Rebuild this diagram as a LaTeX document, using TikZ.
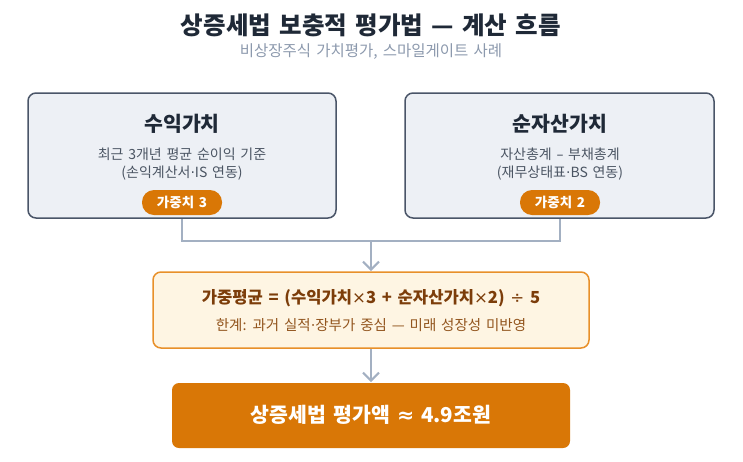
\documentclass[tikz,border=0pt]{standalone}
\usepackage{fontspec}
\setmainfont[WordSpace=1.5]{Noto Sans CJK KR}
\newfontfamily\symfont{DejaVu Sans}
\usepackage{xcolor}
\usepackage{tikz}
\usetikzlibrary{positioning, calc, arrows.meta}

\definecolor{inkdark}{HTML}{1F2937}
\definecolor{inkgray}{HTML}{4B5563}
\definecolor{subgray}{HTML}{8C99AD}
\definecolor{boxfill}{HTML}{EDF0F5}
\definecolor{boxline}{HTML}{4A5568}
\definecolor{orng}{HTML}{D97706}
\definecolor{cream}{HTML}{FEF5E3}
\definecolor{creamline}{HTML}{E8902A}
\definecolor{brownink}{HTML}{7C3D0A}
\definecolor{brownsoft}{HTML}{92551E}
\definecolor{linkgray}{HTML}{A3B0C2}

\newcommand{\tms}{{\symfont\mdseries ×}}
\newcommand{\dt}{{\symfont ·}}

\begin{document}
\begin{tikzpicture}[x=1pt, y=-1pt,
	valuebox/.style={draw=boxline, line width=1.5pt, fill=boxfill, rounded corners=8pt},
	badge/.style={fill=orng, text=white, rounded corners=12pt, minimum width=80pt, minimum height=25pt, inner sep=0pt, font=\fontsize{13.5}{15}\selectfont\bfseries},
	link/.style={draw=linkgray, line width=2pt},
	flow/.style={link, -{Straight Barb[length=8pt, width=16pt, line width=2pt]}}]
	
	\useasboundingbox (0,0) rectangle (743,461);
	
	% title
	\node (title) at (371,25) {\fontsize{24.5}{28}\selectfont\bfseries\color{inkdark}상증세법 보충적 평가법 — 계산 흐름};
	\node (subtitle) at (371,52) {\fontsize{15.5}{17}\selectfont\color{subgray}비상장주식 가치평가, 스마일게이트 사례};
	
	% two value boxes
	\draw[valuebox] (28,93) rectangle (336,218);
	\draw[valuebox] (405,93) rectangle (714,218);
	
	\node (incname) at (182,124) {\fontsize{20.5}{23}\selectfont\bfseries\color{inkdark}수익가치};
	\node[align=center, font=\fontsize{14}{18.5}\selectfont, text=inkgray] (incdesc) at (182,164) {최근 3개년 평균 순이익 기준\\(손익계산서\dt IS 연동)};
	\node[badge] (incw) at (182,202.5) {가중치 3};
	
	\node (netname) at (560,124) {\fontsize{20.5}{23}\selectfont\bfseries\color{inkdark}순자산가치};
	\node[align=center, font=\fontsize{14}{18.5}\selectfont, text=inkgray] (netdesc) at (560,164) {자산총계 {\symfont –} 부채총계\\(재무상태표\dt BS 연동)};
	\node[badge] (netw) at (560,202.5) {가중치 2};
	
	% weighted average box
	\draw[draw=creamline, line width=1.5pt, fill=cream, rounded corners=8pt] (153,272) rectangle (589,348);
	\node (avg) at (371,298) {\fontsize{16.6}{19}\selectfont\bfseries\color{brownink}가중평균 = (수익가치\tms3 + 순자산가치\tms2) {\symfont\mdseries ÷} 5};
	\node (limit) at (371,325) {\fontsize{14.5}{16}\selectfont\color{brownsoft}한계: 과거 실적\dt 장부가 중심 — 미래 성장성 미반영};
	
	% result box
	\draw[fill=orng, draw=none, rounded corners=7pt] (172,383) rectangle (570,448);
	\node (result) at (371,415) {\fontsize{20.5}{23}\selectfont\bfseries\color{white}상증세법 평가액 {\symfont ≈} 4.9조원};
	
	% connectors
	\coordinate (joint) at (371,241);
	\coordinate (avgtop) at (371,271);
	\coordinate (avgbot) at (371,349);
	\coordinate (restop) at (371,382);
	\draw[link] (incw.south |- 0,219) |- (joint) -| (netw.south |- 0,219);
	\draw[flow] (joint) -- (avgtop);
	\draw[flow] (avgbot) -- (restop);
\end{tikzpicture}
\end{document}
